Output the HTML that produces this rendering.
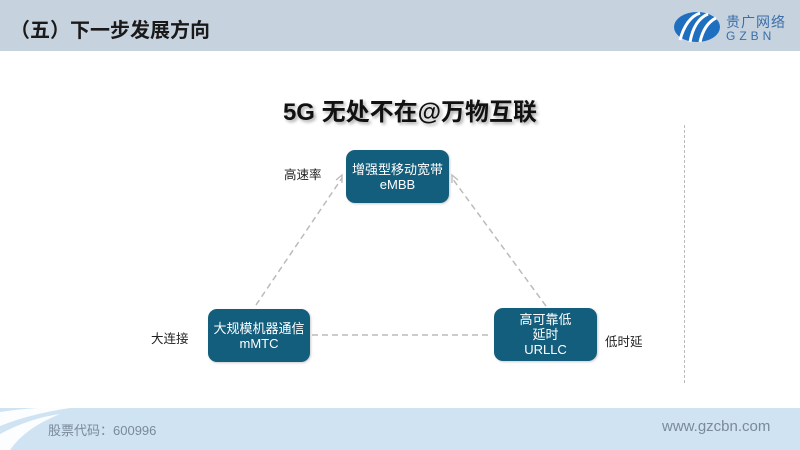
<!DOCTYPE html>
<html><head><meta charset="utf-8"><style>
*{margin:0;padding:0}
body{width:800px;height:450px;position:relative;overflow:hidden;background:#fff;font-family:"Liberation Sans","Noto Sans CJK SC",sans-serif}
.a{position:absolute}
.box{position:absolute;background:#135e7d;border-radius:9px;color:#fff;font-size:13px;line-height:15px;text-align:center;display:flex;flex-direction:column;justify-content:center;box-shadow:1px 1px 2px rgba(0,0,0,.2)}
.lab{position:absolute;font-size:12.5px;color:#222}
</style></head><body>
<div class="a" style="left:0;top:0;width:800px;height:51px;background:#c7d2df"></div>
<div class="a" style="left:10px;top:14px;font-size:20px;font-weight:bold;color:#1a1a1a">（五）下一步发展方向</div>
<svg class="a" style="left:672px;top:10px" width="50" height="34" viewBox="0 0 50 34">
<ellipse cx="25" cy="17" rx="23" ry="15" fill="#1f6fc0"/>
<path d="M8 30 Q14 8 28 3" stroke="#fff" stroke-width="3" fill="none"/>
<path d="M18 32 Q22 10 36 4" stroke="#fff" stroke-width="3" fill="none"/>
<path d="M28 32 Q32 14 44 8" stroke="#fff" stroke-width="3" fill="none"/>
</svg>
<div class="a" style="left:726px;top:12px;font-size:14px;color:#3a6fa8;letter-spacing:1px">贵广网络</div>
<div class="a" style="left:726px;top:29px;font-size:12px;color:#3a6fa8;letter-spacing:4px">GZBN</div>
<div class="a" style="left:0;top:92px;width:820px;text-align:center;font-size:24px;font-weight:bold;color:#111;text-shadow:2px 2px 3px rgba(0,0,0,.35)">5G 无处不在@万物互联</div>
<div class="a" style="left:684px;top:125px;width:0;height:258px;border-left:1px dashed #bbb"></div>
<svg class="a" style="left:0;top:0" width="800" height="450">
<g stroke="#bbb" stroke-width="1.5" stroke-dasharray="6,4" fill="none">
<line x1="256" y1="305" x2="342" y2="178"/>
<line x1="546" y1="306" x2="452" y2="178"/>
<line x1="312" y1="335" x2="492" y2="335"/>
</g>
<polyline points="336,180 342,175 342,183" stroke="#bbb" fill="none" stroke-width="1.3"/>
<polyline points="452,183 452,175 458,180" stroke="#bbb" fill="none" stroke-width="1.3"/>
</svg>
<div class="box" style="left:346px;top:150px;width:103px;height:53px">增强型移动宽带<br>eMBB</div>
<div class="box" style="left:208px;top:309px;width:102px;height:53px">大规模机器通信<br>mMTC</div>
<div class="box" style="left:494px;top:308px;width:103px;height:53px">高可靠低<br>延时<br>URLLC</div>
<div class="lab" style="left:284px;top:164px">高速率</div>
<div class="lab" style="left:151px;top:328px">大连接</div>
<div class="lab" style="left:605px;top:331px">低时延</div>
<div class="a" style="left:0;top:408px;width:800px;height:42px;background:#cfe3f3"></div>
<svg class="a" style="left:0;top:404px" width="90" height="46">
<path d="M0 8 Q40 2 70 4 Q30 10 0 22Z" fill="#fff" opacity=".9"/>
<path d="M0 30 Q30 14 60 10 Q25 24 10 46 L0 46Z" fill="#fff" opacity=".9"/>
</svg>
<div class="a" style="left:48px;top:420px;font-size:13px;color:#7a8a99">股票代码：600996</div>
<div class="a" style="left:662px;top:418px;font-size:15px;color:#7a8a99">www.gzcbn.com</div>
</body></html>
